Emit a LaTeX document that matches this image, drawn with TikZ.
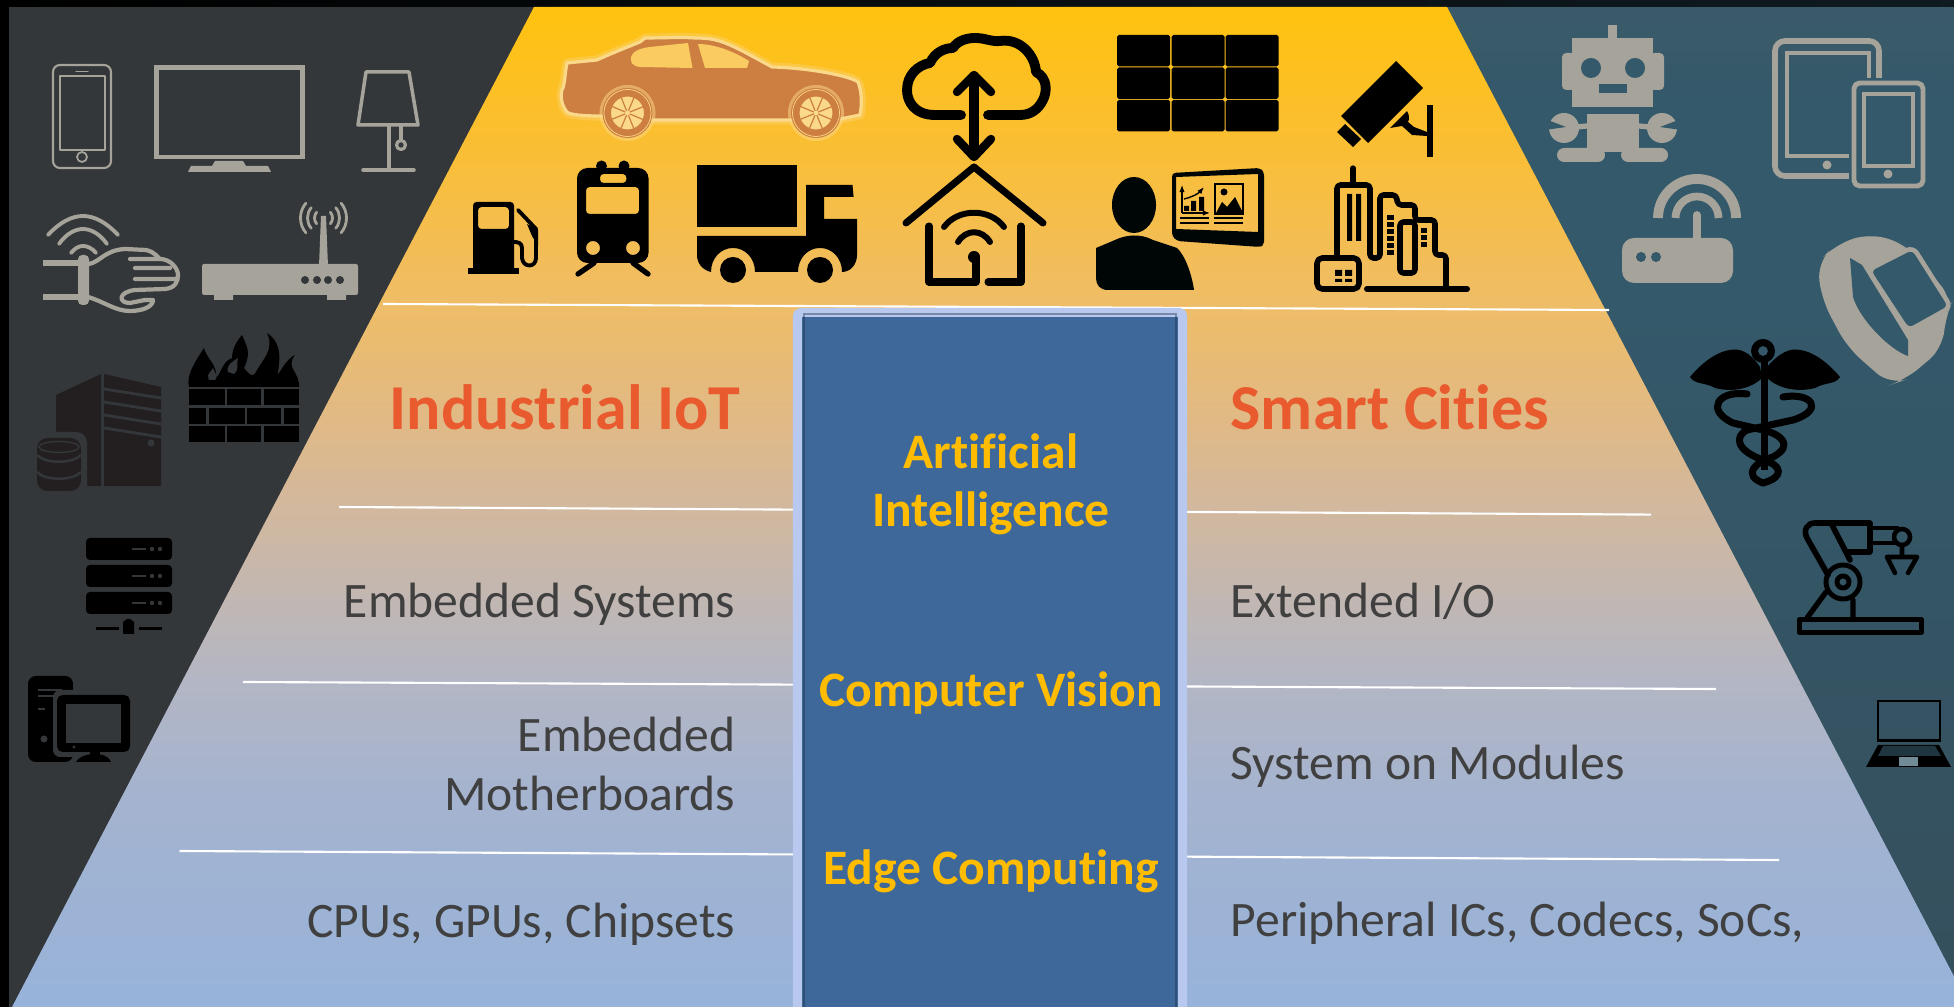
\documentclass[tikz,border=0pt]{standalone}
\usepackage{fontspec}
\setmainfont[Ligatures=NoCommon]{Carlito}
\usetikzlibrary{arrows.meta}
\definecolor{pyrA}{HTML}{FFC20F}
\definecolor{pyrB}{HTML}{FABE35}
\definecolor{pyrC}{HTML}{EFBD66}
\definecolor{pyrD}{HTML}{DFB988}
\definecolor{pyrE}{HTML}{D3B89C}
\definecolor{pyrF}{HTML}{B3B6C4}
\definecolor{pyrG}{HTML}{A4B3CF}
\definecolor{pyrH}{HTML}{97B3DA}
\definecolor{darkbg}{HTML}{33373A}
\definecolor{tealbg}{HTML}{34596A}
\definecolor{tealtop}{HTML}{3B5A69}
\definecolor{tealbot}{HTML}{354F5C}
\definecolor{icongrey}{HTML}{A6A39A}
\definecolor{towerink}{HTML}{231F20}
\definecolor{carbody}{HTML}{CD7F41}
\definecolor{carglow}{HTML}{FBD98A}
\definecolor{boxrim}{HTML}{B9C8EF}
\definecolor{boxfill}{HTML}{3E6899}
\definecolor{titlered}{HTML}{E95A2F}
\definecolor{tiergrey}{HTML}{404040}
\definecolor{aigold}{HTML}{FFBC00}
\pgfdeclareverticalshading{pyramid}{100bp}{color(0bp)=(pyrH); color(25bp)=(pyrH); color(35.35bp)=(pyrG); color(41.35bp)=(pyrF); color(50.35bp)=(pyrE); color(53.85bp)=(pyrD); color(60.35bp)=(pyrC); color(67.85bp)=(pyrB); color(75bp)=(pyrA); color(100bp)=(pyrA)}
\pgfdeclareverticalshading{tealside}{100bp}{color(0bp)=(tealbot); color(25bp)=(tealbot); color(60bp)=(tealbg); color(70bp)=(tealbg); color(75bp)=(tealtop); color(100bp)=(tealtop)}
\tikzset{
  titlelabel/.style={text=titlered, font=\fontsize{18.2}{20}\selectfont\bfseries, inner sep=0pt},
  tierlabel/.style={text=tiergrey, font=\fontsize{14.1}{17}\selectfont, inner sep=0pt},
  ailabel/.style={text=aigold, font=\fontsize{14.1}{16.6}\selectfont\bfseries, inner sep=0pt, align=center},
  tierline/.style={draw=white, line width=0.6pt},
  greyline/.style={draw=icongrey, line cap=round, line join=round},
  inkline/.style={draw=black, line cap=round, line join=round}
}
\newcommand{\carwheel}[2]{
  \fill [carglow, opacity=0.5] (#1,#2) circle (0.28cm);
  \fill [carbody] (#1,#2) circle (0.25cm);
  \draw [carglow, line width=0.2pt] (#1,#2) circle (0.235cm);
  \fill [carglow] (#1,#2) circle (0.17cm);
  \foreach \spoke in {0,45,...,315} {
    \draw [carbody, line width=0.35pt] (#1,#2) -- +(\spoke+22:0.17cm);
  }
  \draw [carbody, line width=0.3pt] (#1,#2) circle (0.17cm);
  \fill [carglow] (#1,#2) circle (0.025cm);
}
\newcommand{\carshape}{(567,63) -- (597,60) .. controls (610,54) and (630,46) .. (640,42) -- (645,38) .. controls (665,38) and (680,37) .. (695,38) .. controls (720,38) and (728,43) .. (772,67) .. controls (810,68) and (850,76) .. (858,82) .. controls (862,92) and (862,105) .. (860,115) -- (840,119) -- (792,120) -- (654,120) -- (601,116) .. controls (585,116) and (570,115) .. (567,112) .. controls (562,106) and (560,97) .. (562,90) .. controls (565,85) and (565,72) .. (567,63) -- cycle}
\begin{document}
\begin{tikzpicture}[x=0.01cm, y=-0.01cm]
  \path [use as bounding box, clip] (0,0) rectangle (1954,1007);
  \fill [darkbg] (0,0) rectangle (1000,1007);
  \path [shading=tealside] (1000,0) rectangle (1954,1007);
  \fill [left color=black, right color=black!70!tealbg] (0,0) rectangle (1954,7);
  \fill [black] (0,0) rectangle (9,1007);
  \path [shading=pyramid] (534,7) -- (1447,7) -- (1970,1007) -- (12,1007) -- cycle;

  \coordinate (tierTl) at (383,304);
  \coordinate (tierTr) at (1609,310);
  \coordinate (tierAl) at (339,507);
  \coordinate (tierAr) at (1651,514.6);
  \coordinate (tierBl) at (243,682);
  \coordinate (tierBr) at (1716,689);
  \coordinate (tierCl) at (179.5,851);
  \coordinate (tierCr) at (1779,860);
  \draw [tierline] (tierTl) -- (tierTr);
  \draw [tierline] (tierAl) -- (tierAr);
  \draw [tierline] (tierBl) -- (tierBr);
  \draw [tierline] (tierCl) -- (tierCr);

  \node (aibox) [draw=boxrim, fill=boxfill, line width=2.56pt, rounded corners=1pt, minimum width=3.85cm, minimum height=7.4cm, anchor=north, inner sep=0pt] at (990,308) {};
  \draw [black!60!boxfill, line width=0.8pt, opacity=0.4] (804,1007) -- (804,314) -- (1176,314) -- (1176,1007);

  \node (titleIot) [titlelabel, anchor=base east] at (741,430) {Industrial IoT};
  \node (titleCity) [titlelabel, anchor=base west] at (1230,430) {Smart Cities};
  \node (tierEmb) [tierlabel, anchor=base east] at (736,618) {Embedded Systems};
  \node (tierMb) [tierlabel, anchor=east, align=right] at (736,764) {Embedded\\Motherboards};
  \node (tierCpu) [tierlabel, anchor=base east] at (736,938) {CPUs, GPUs, Chipsets};
  \node (tierIo) [tierlabel, anchor=base west] at (1230,618) {Extended I/O};
  \node (tierSom) [tierlabel, anchor=base west] at (1230,780) {System on Modules};
  \node (tierIc) [tierlabel, anchor=base west] at (1230,937) {Peripheral ICs, Codecs, SoCs,};
  \node (aiArt) [ailabel] at (991,484) {Artificial\\Intelligence};
  \node (aiVis) [ailabel, anchor=base] at (991,706.5) {Computer Vision};
  \node (aiEdge) [ailabel, anchor=base] at (991,885) {Edge Computing};

  \draw [greyline, line width=0.6pt, rounded corners=2pt] (53,65) rectangle (111,168);
  \draw [greyline, line width=0.4pt] (60,76) rectangle (105,150);
  \draw [greyline, line width=0.4pt] (76,71.5) -- (88,71.5);
  \draw [greyline, line width=0.5pt] (82,157) circle (0.05cm);
  \draw [greyline, line width=1.4pt, line join=miter] (156.5,67.5) rectangle (302.5,157);
  \fill [icongrey] (188,172) -- (191,166) -- (212,166) -- (215,161) -- (243,161) -- (246,166) -- (268,166) -- (271,172) -- cycle;
  \draw [greyline, line width=1pt] (366,72) -- (409,72) -- (418,125) -- (358,125) -- cycle;
  \draw [greyline, line width=1pt] (389,125) -- (389,170) (363,170) -- (414,170) (401,125) -- (401,140);
  \draw [greyline, line width=0.9pt] (401,145) circle (0.045cm);

  \draw [greyline, line width=1.1pt] (48,235) .. controls (60,222) and (72,216) .. (83,216) .. controls (94,216) and (106,222) .. (118,235);
  \draw [greyline, line width=1.1pt] (59,244) .. controls (66,234) and (75,229) .. (83,229) .. controls (91,229) and (100,234) .. (107,244);
  \draw [greyline, line width=1.1pt] (71,253) .. controls (75,248) and (79,246) .. (83,246) .. controls (87,246) and (92,248) .. (96,253);
  \draw [icongrey, line width=1.5pt] (43,263) -- (78,263) (43,297) -- (78,297);
  \fill [icongrey, rounded corners=1.2pt] (78,255) rectangle (89,305);
  \draw [greyline, line width=1.2pt] (89,264) .. controls (100,262) and (105,250) .. (125,249) -- (146,250) .. controls (155,252) and (157,257) .. (160,259) -- (130,259) (160,259) .. controls (170,259) and (178,268) .. (178,275) .. controls (178,282) and (175,288) .. (165,289) -- (135,290) .. controls (118,292) and (118,303) .. (130,303) -- (145,300) (135,268) -- (170,268) (135,279) -- (176,279);
  \draw [greyline, line width=1.2pt] (88,297) .. controls (105,302) and (115,311) .. (130,311) .. controls (142,311) and (153,307) .. (153,300) -- (145,300);
  \fill [icongrey, rounded corners=0.6pt] (202,264) rectangle (358,295);
  \fill [icongrey] (214,293) rectangle (233,300) (327,293) rectangle (346,300);
  \fill [icongrey] (321,216) -- (326,216) -- (328,266) -- (319,266) -- cycle;
  \foreach \dotx in {305,317,328,340} {
    \fill [darkbg] (\dotx,280) circle (0.04cm);
  }
  \foreach \waver in {0.09cm,0.16cm,0.23cm} {
    \draw [icongrey, line width=0.8pt, line cap=round] (323.5,218) ++(140:\waver) arc [start angle=140, end angle=220, radius=\waver];
    \draw [icongrey, line width=0.8pt, line cap=round] (323.5,218) ++(-40:\waver) arc [start angle=-40, end angle=40, radius=\waver];
  }

  \fill [towerink] (56,395) -- (101,374) -- (101,486) -- (56,486) -- cycle;
  \fill [towerink] (104,374) -- (161,387) -- (161,486) -- (104,486) -- cycle;
  \draw [darkbg, line width=0.8pt] (104,389) -- (161,398) (104,402) -- (161,411) (104,415) -- (161,424) (104,428) -- (161,437);
  \fill [darkbg] (151,443) circle (0.035cm);
  \fill [darkbg, rounded corners=3pt] (30,432) rectangle (87,496);
  \fill [towerink, rounded corners=3pt] (37,438) rectangle (81,491);
  \draw [darkbg, line width=0.4pt] (59,447) ellipse [x radius=0.2cm, y radius=0.055cm];
  \draw [darkbg, line width=0.7pt] (37,455) .. controls (45,464) and (73,464) .. (81,455) (37,472) .. controls (45,481) and (73,481) .. (81,472);

  \fill [black] (189,387) .. controls (186,375) and (195,362) .. (204,348) .. controls (206,358) and (218,365) .. (216,378) .. controls (222,372) and (222,362) .. (232,358) .. controls (232,350) and (236,342) .. (242,335) .. controls (246,345) and (252,352) .. (244,368) .. controls (250,375) and (252,378) .. (256,372) .. controls (262,360) and (275,350) .. (267,333) .. controls (285,345) and (278,365) .. (278,375) .. controls (282,368) and (288,358) .. (295,355) .. controls (285,368) and (300,372) .. (299,387) -- cycle;
  \fill [darkbg] (209,380) .. controls (206,372) and (212,372) .. (213,368) .. controls (216,374) and (218,378) .. (215,380) -- cycle;
  \fill [darkbg] (228,372) .. controls (226,365) and (232,362) .. (238,358) .. controls (236,366) and (240,368) .. (234,374) -- cycle;
  \foreach \brickx/\brickw/\bricky in {189/36/389,227/34/389,264/35/389,189/17/408,209/36/408,247/34/408,284/15/408,189/36/426,227/34/426,264/35/426} {
    \fill [black] (\brickx,\bricky) rectangle +(\brickw,16);
  }

  \foreach \racky in {538,565,592} {
    \fill [black, rounded corners=1.1pt] (86,\racky) rectangle (172,\racky+22);
    \draw [darkbg, line width=0.4pt] (132,\racky+11) -- (146,\racky+11);
    \fill [darkbg] (152,\racky+11) circle (0.022cm) (160,\racky+11) circle (0.022cm);
  }
  \draw [black, line width=1.1pt] (96,628.5) -- (119,628.5) (139,628.5) -- (162,628.5);
  \fill [black] (123,634) -- (134,634) -- (134,622) -- (130,619) -- (127,619) -- (123,622) -- cycle;

  \fill [black, rounded corners=2.2pt] (28,676) rectangle (73,762);
  \draw [darkbg, line width=0.5pt] (38,690) -- (62,690) (38,696) -- (55,696) (38,709) -- (45,709);
  \fill [darkbg] (44,739) circle (0.035cm);
  \fill [darkbg, rounded corners=2pt] (53,690) rectangle (135,757);
  \fill [black, rounded corners=1.6pt] (57,695) rectangle (130,752);
  \fill [darkbg] (66,704) rectangle (121,743);
  \fill [darkbg] (74,747) circle (0.016cm);
  \fill [black] (90,750) rectangle (100,757);
  \fill [black] (76,762) .. controls (80,755) and (90,754) .. (95,754) .. controls (100,754) and (108,755) .. (111,762) -- cycle;

  \path [draw=carglow, line width=2.6pt, line join=round, opacity=0.35] \carshape;
  \path [fill=carbody, draw=carglow, line width=0.9pt, line join=round] \carshape;
  \fill [carglow!50!pyrB] (631,57) .. controls (632,52) and (640,48) .. (650,47) -- (688,43) -- (692.5,68) -- (640,67) .. controls (632,66) and (630,62) .. (631,57) -- cycle;
  \fill [carglow!50!pyrB] (698,44) .. controls (715,44) and (735,52) .. (749,61) -- (747,68) -- (705,68) -- cycle;
  \carwheel{627.5}{113}
  \carwheel{816}{113}

  \draw [inkline, line width=2.8pt] (961,115) -- (935,115) .. controls (915,115) and (907,102) .. (907,90) .. controls (907,75) and (918,65) .. (930,63) .. controls (935,52) and (945,48) .. (953,48) .. controls (958,40) and (968,38) .. (975,38) .. controls (985,38) and (992,42) .. (1000,41) .. controls (1020,38) and (1035,55) .. (1036,72) .. controls (1048,78) and (1047,92) .. (1043,100) .. controls (1038,110) and (1030,115) .. (1020,115) -- (988,115);
  \draw [inkline, line width=2.6pt] (974,76) -- (974,156);
  \draw [inkline, line width=2.4pt] (957,92) -- (974,75) -- (991,92);
  \draw [inkline, line width=2.4pt] (957,139) -- (974,157) -- (991,139);

  \foreach \gridx in {1117,1171.5,1225.5} {
    \foreach \gridy in {35,67.5,100} {
      \fill [black, rounded corners=0.5pt] (\gridx,\gridy) rectangle +(53,31.3);
    }
  }

  \fill [black] (1396,61) -- (1423,88) -- (1368,143) -- (1341,116) -- cycle;
  \fill [black] (1345,124) -- (1361,139) -- (1353,147) -- (1337,132) -- cycle;
  \fill [black] (1427,105) rectangle (1433,157);
  \fill [black] (1407,111) .. controls (1410,116) and (1409,120) .. (1408,122) -- (1414,127) -- (1427,132) -- (1427,136) -- (1412,135) -- (1402,126) -- (1390,128) -- cycle;

  \fill [black] (467.5,268) rectangle (519,274);
  \fill [black, even odd rule, rounded corners=1pt] (473,272) -- (473,202) -- (514,202) -- (514,272) -- cycle (478,207) rectangle (509,229);
  \draw [inkline, line width=1.1pt] (518,210) -- (536,229) -- (536,258) .. controls (536,268) and (523,268) .. (522,258) -- (522,248) .. controls (522,243) and (518,242) .. (514,242);
  \fill [black] (527,224) -- (538,230) -- (538,246) -- (532,236) -- cycle;

  \fill [black] (601.5,166) circle (0.055cm) (624,166) circle (0.055cm);
  \fill [black, even odd rule, rounded corners=3pt] (577,168) rectangle (648.6,263) [rounded corners=1pt] (600,174) rectangle (626.4,183) (586,187) rectangle (639,214) [sharp corners] (593,248) circle (0.07cm) (633,248) circle (0.07cm);
  \draw [inkline, line width=1.5pt] (594,263) -- (578,274) (633,263) -- (648,274);

  \fill [black] (697,165) rectangle (797,227);
  \fill [black] (697,236) -- (806,236) -- (806,185) -- (852.5,185) -- (853.6,197) -- (824,197) -- (824,219) -- (857,219) -- (857,255) .. controls (857,265) and (850,272) .. (842,272) .. controls (842,258) and (832,248) .. (820,248) .. controls (808,248) and (798,258) .. (798,272) -- (755,272) .. controls (755,258) and (745,248) .. (733,248) .. controls (721,248) and (711,258) .. (711,272) .. controls (703,270) and (697,264) .. (697,255) -- cycle;
  \fill [black] (733,270) circle (0.13cm) (820,270) circle (0.13cm);

  \draw [inkline, line width=2pt] (906,223) -- (974,167) -- (1043,223);
  \draw [inkline, line width=2pt] (929,226) -- (929,282) -- (976,282) -- (976,257);
  \draw [inkline, line width=2pt] (988,282) -- (1021,282) -- (1021,226);
  \draw [inkline, line width=1.7pt] (944,227) .. controls (958,208) and (990,208) .. (1004,227);
  \draw [inkline, line width=1.7pt] (958,242) .. controls (966,229) and (982,229) .. (990,242);
  \fill [black] (974,257) circle (0.06cm);

  \fill [black!95!teal] (1134,205) ellipse [x radius=0.22cm, y radius=0.28cm];
  \fill [black!95!teal] (1096,248) -- (1115,240) .. controls (1125,235) and (1140,233) .. (1153,240) -- (1177,248) .. controls (1185,255) and (1192,275) .. (1194,290) -- (1108,290) .. controls (1100,290) and (1096,285) .. (1096,278) -- cycle;
  \fill [black!95!teal, even odd rule, rounded corners=1pt] (1172,173) -- (1260,168) -- (1264,172) -- (1264,245) -- (1260,247) -- (1177,241) -- (1172,236) -- cycle [sharp corners] (1176,177) -- (1258,174) -- (1258,232) -- (1176,229) -- cycle;
  \draw [black, line width=0.3pt, -{Latex[length=2pt,width=1.5pt]}] (1182,213) -- (1182,185);
  \draw [black, line width=0.3pt, -{Latex[length=2pt,width=1.5pt]}] (1182,213) -- (1210,213);
  \fill [black] (1184,206) rectangle (1189,211) (1191,201) rectangle (1196,211) (1199,197) rectangle (1204,211);
  \draw [black, line width=0.4pt, -{Latex[length=2pt,width=1.5pt]}] (1184,199) .. controls (1192,197) and (1198,194) .. (1204,187);
  \draw [black, line width=0.4pt] (1215,184) rectangle (1243,214);
  \fill [black] (1224,192) circle (0.035cm);
  \fill [black] (1216,213) -- (1222,202) -- (1227,207) -- (1235,197) -- (1243,213) -- cycle;
  \draw [black, line width=0.35pt] (1180,218) -- (1209,218) (1180,223) -- (1209,223) (1214,218) -- (1243,218) (1214,223) -- (1243,223);

  \draw [inkline, line width=1.5pt] (1353,168) -- (1353,185);
  \draw [inkline, line width=1.6pt, rounded corners=1pt] (1337,258) -- (1337,185) -- (1370,185) -- (1370,258) -- (1380,258) -- (1380,195) -- (1396,195) -- (1398,205) -- (1415,205) -- (1415,220) -- (1435,220) -- (1435,255) -- (1446,255) -- (1446,289);
  \draw [inkline, line width=1.6pt, rounded corners=1pt] (1400,222) rectangle (1415,273);
  \draw [inkline, line width=1.6pt, rounded corners=1.5pt] (1317,258) rectangle (1359,289);
  \draw [inkline, line width=1.7pt] (1367,289) -- (1467,289);
  \fill [black] (1347,194) rectangle (1352,241) (1356,194) rectangle (1361,241);
  \fill [black] (1335,270) rectangle (1342,276) (1345,270) rectangle (1352,276) (1335,279) rectangle (1342,282) (1345,279) rectangle (1352,282);
  \foreach \winy in {215,222,229,236,243,250} {
    \fill [black] (1387,\winy) rectangle +(7,5);
  }
  \foreach \winy in {228,235,242} {
    \fill [black] (1421,\winy) rectangle +(6,5);
  }

  \fill [icongrey] (1608,25) rectangle (1617,40);
  \fill [icongrey] (1572,38) rectangle (1653,107);
  \fill [icongrey, rounded corners=1.2pt] (1562,53) rectangle (1575,90) (1650,53) rectangle (1664,90);
  \fill [tealbg] (1591,68) circle (0.1cm) (1635,68) circle (0.1cm);
  \fill [tealbg] (1599,84) rectangle (1627,93);
  \fill [icongrey] (1587,114) rectangle (1639,152);
  \fill [icongrey, rounded corners=2pt] (1557,148) rectangle (1605,162) (1621,148) rectangle (1668,162);
  \draw [icongrey, line width=1.5pt] (1587,126) -- (1566,128) (1639,126) -- (1660,128);
  \fill [icongrey] (1564,128) circle (0.15cm) (1662,128) circle (0.15cm);
  \fill [tealbg] (1566,127) -- (1545,119) -- (1545,130) -- cycle;
  \fill [tealbg] (1660,127) -- (1681,119) -- (1681,130) -- cycle;

  \draw [greyline, line width=1.6pt, rounded corners=2.8pt] (1775,41) rectangle (1879,176);
  \draw [greyline, line width=1.4pt, line join=miter] (1787,53) rectangle (1869,156);
  \fill [icongrey] (1827,165) circle (0.045cm);
  \fill [tealbg] (1849,78) rectangle (1930,192);
  \draw [greyline, line width=1.4pt, rounded corners=1.6pt] (1854,83) rectangle (1923,186);
  \draw [greyline, line width=1.1pt, line join=miter] (1864,94) rectangle (1913,166);
  \fill [icongrey] (1888,174) circle (0.045cm);

  \draw [icongrey, line width=2.8pt] (1658,218) arc [start angle=180, end angle=0, radius=0.39cm];
  \draw [icongrey, line width=2.2pt] (1675.5,218) arc [start angle=180, end angle=0, radius=0.215cm];
  \draw [greyline, line width=2.2pt] (1697,215) -- (1697,240);
  \fill [icongrey, rounded corners=3.4pt] (1622,238) rectangle (1733,283);
  \fill [tealbg] (1641,257) circle (0.05cm) (1656,257) circle (0.05cm);

  \fill [icongrey, rounded corners=5pt] (1817,263) -- (1835,245) -- (1870,233) -- (1907,245) -- (1953,300) -- (1945,317) -- (1943,348) -- (1905,380) -- (1890,385) -- (1847,347) -- (1822,300) -- cycle;
  \fill [tealbg] (1850,258) -- (1862,265) -- (1908,340) -- (1908,356) .. controls (1890,350) and (1860,320) .. (1853,297) -- cycle;
  \draw [icongrey, fill=tealbg, line width=1.3pt, rounded corners=2pt] (1913,247) -- (1951,307) -- (1908,331) -- (1868,270) -- cycle;

  \fill [black, even odd rule] (1763,351) circle (0.12cm) (1763,351) circle (0.05cm);
  \fill [black] (1761,360) rectangle (1768,470);
  \fill [black] (1760,367) .. controls (1750,352) and (1740,348) .. (1730,350) .. controls (1715,352) and (1700,365) .. (1690,377) .. controls (1695,385) and (1705,382) .. (1715,388) .. controls (1730,392) and (1750,390) .. (1762,378) -- cycle;
  \fill [black] (1767,367) .. controls (1780,352) and (1790,348) .. (1800,350) .. controls (1815,352) and (1830,365) .. (1840,377) .. controls (1835,385) and (1825,382) .. (1815,388) .. controls (1800,392) and (1780,390) .. (1767,378) -- cycle;
  \draw [inkline, line width=2pt] (1747,394) .. controls (1718,390) and (1705,410) .. (1733,423) -- (1763,430) .. controls (1780,434) and (1795,445) .. (1773,457) .. controls (1755,462) and (1742,475) .. (1763,483);
  \draw [inkline, line width=2pt] (1783,397) .. controls (1812,392) and (1825,410) .. (1793,420) -- (1747,430) .. controls (1735,436) and (1735,450) .. (1763,460) .. controls (1782,465) and (1785,477) .. (1763,483);

  \draw [inkline, line width=1.4pt] (1799.5,619.5) rectangle (1921.5,632.5);
  \draw [inkline, line width=1.4pt] (1843,582) circle (0.17cm);
  \draw [inkline, line width=1.4pt] (1843,582) circle (0.06cm);
  \draw [inkline, line width=1.6pt] (1828,575) -- (1807,538) .. controls (1803,530) and (1807,523) .. (1815,523) -- (1870,523) -- (1870,552) -- (1846,552) (1832,525) -- (1850,560);
  \draw [inkline, line width=1.4pt] (1870,528) -- (1897,528) (1870,543) -- (1897,543);
  \draw [inkline, line width=1.3pt] (1902,537) circle (0.08cm);
  \draw [inkline, line width=1.3pt] (1902,545) -- (1902,557) (1887,557) -- (1917,557) (1887,557) -- (1895,573) (1917,557) -- (1908,573);
  \draw [inkline, line width=1.5pt] (1826,592) -- (1807,618) (1853,600) -- (1853,618);

  \draw [black, line width=0.7pt] (1878,701) rectangle (1940,740);
  \fill [black] (1877,739) rectangle (1941,742);
  \fill [black] (1878,745) -- (1939,745) -- (1951,767) -- (1866,767) -- cycle;
  \fill [tealbg!60!black] (1883,746) -- (1935,746) -- (1941,756) -- (1878,756) -- cycle;
  \fill [tealbg!70!white] (1899,757) rectangle (1918,766);
\end{tikzpicture}
\end{document}
